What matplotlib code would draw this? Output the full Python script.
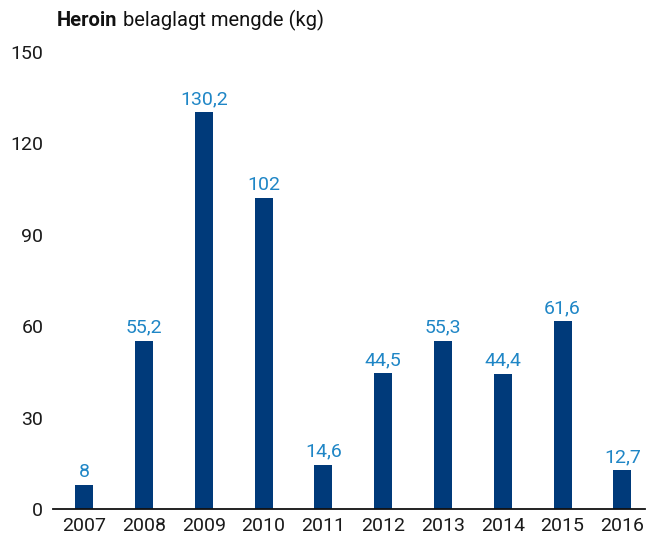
import matplotlib
matplotlib.use("Agg")
import matplotlib.pyplot as plt

years = ["2007", "2008", "2009", "2010", "2011", "2012", "2013", "2014", "2015", "2016"]
amount = [8, 55.2, 130.2, 102, 14.6, 44.5, 55.3, 44.4, 61.6, 12.7]
labels = ["8", "55,2", "130,2", "102", "14,6", "44,5", "55,3", "44,4", "61,6", "12,7"]
yticks = [0, 30, 60, 90, 120, 150]

bar_col = "#003a7a"
lab_col = "#1f86c6"

plt.rcParams['font.family'] = ['Roboto', 'DejaVu Sans']

fig = plt.figure(figsize=(6.47, 5.41), dpi=100)
ax = fig.add_axes([0.082, 0.059, 0.915, 0.845])

x = list(range(len(years)))
bars = ax.bar(x, amount, width=0.3, color=bar_col)
for xi, v, s in zip(x, amount, labels):
    ax.annotate(s, (xi, v), xytext=(0, 3), textcoords="offset points",
                ha="center", va="bottom", fontsize=14, color=lab_col)

ax.set_xlim(-0.52, 9.38)
ax.set_ylim(0, 150)
ax.set_xticks(x)
ax.set_xticklabels(years)
ax.set_yticks(yticks)
ax.tick_params(axis="both", length=0, labelsize=14, colors="#1a1a1a")
ax.tick_params(axis="x", pad=6)
ax.tick_params(axis="y", pad=7)
for side in ["top", "right", "left"]:
    ax.spines[side].set_visible(False)
ax.spines["bottom"].set_linewidth(1.3)
ax.spines["bottom"].set_color("#111111")

t1 = fig.text(57 / 647, 1 - 20 / 541, "Heroin", fontsize=14.5, fontweight="bold",
              va="center", ha="left", color="#111111")
fig.canvas.draw()
ax.annotate(" belaglagt mengde (kg)", xy=(1, 0.5), xycoords=t1, va="center",
            ha="left", fontsize=14.5, color="#111111")

fig.savefig("out.png", dpi=100)
